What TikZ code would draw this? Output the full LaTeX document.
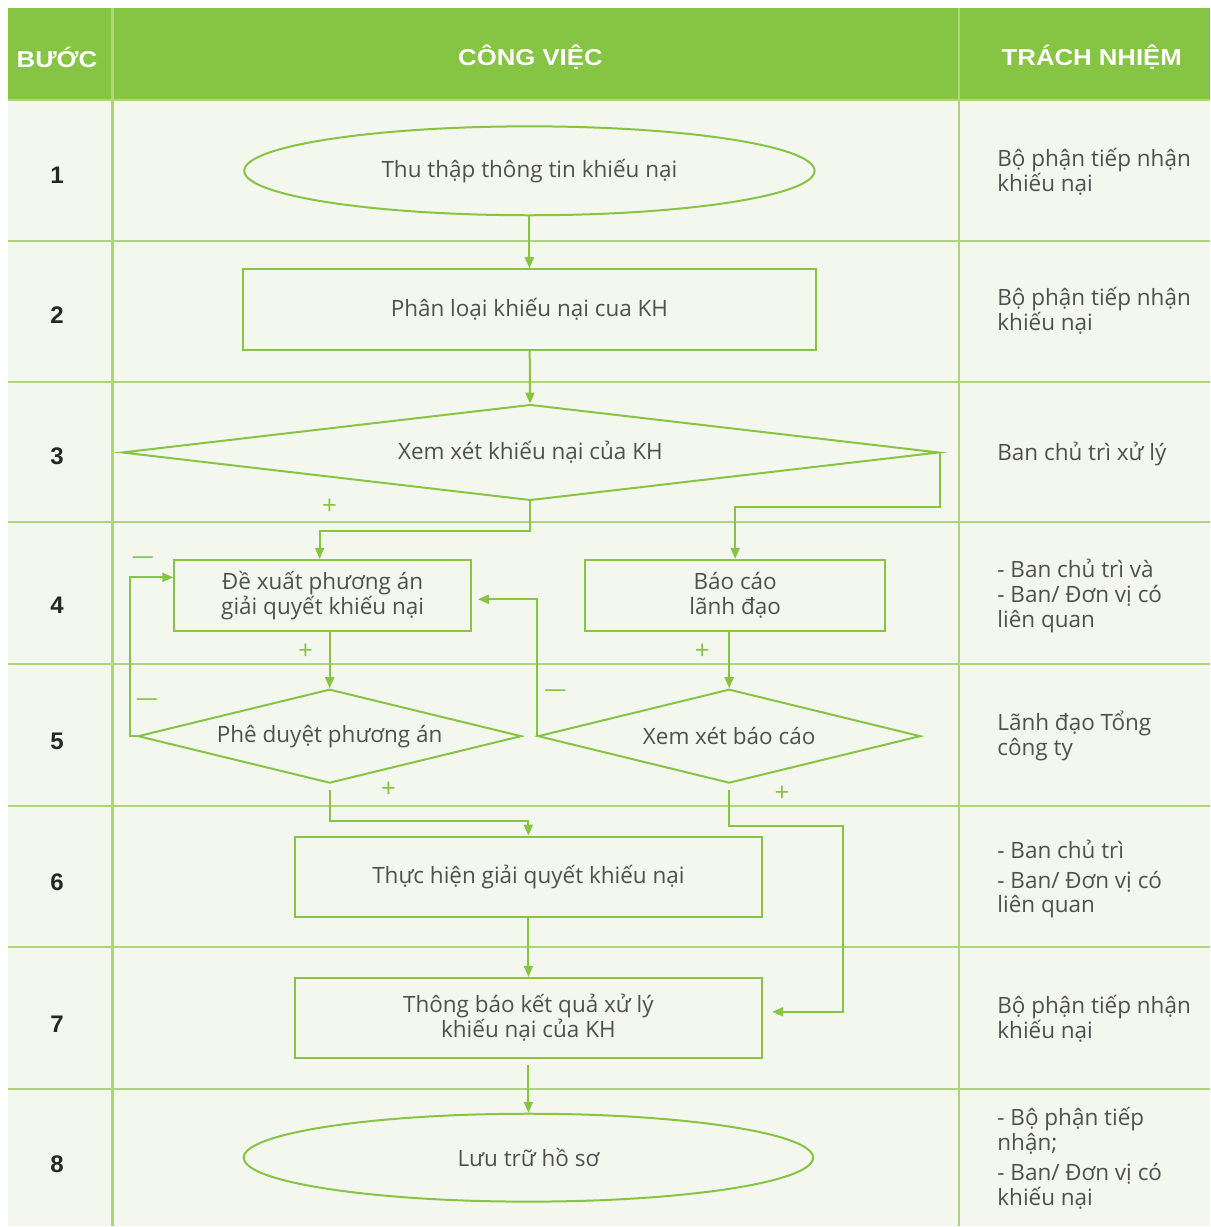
\documentclass[tikz,border=0pt]{standalone}
\usepackage{fontspec}
\setmainfont{Open Sans}
\newfontfamily\headfont[FakeStretch=1.12]{Liberation Sans}
\newfontfamily\numfont{Liberation Sans}
\usetikzlibrary{shapes.geometric,arrows.meta}
\definecolor{leaf}{HTML}{86C443}
\definecolor{rulegreen}{HTML}{ADD67A}
\definecolor{paper}{HTML}{F4F7EE}
\definecolor{ink}{HTML}{505050}
\newcommand{\txtsize}{\fontsize{22.5}{25}\selectfont}

\begin{document}
\begin{tikzpicture}[x=1pt,y=-1pt,
  term/.style={ellipse,draw=leaf,line width=2pt,minimum width=571pt,minimum height=89pt,inner sep=0pt,text=ink,font=\txtsize,align=center},
  task/.style={rectangle,draw=leaf,line width=2pt,inner sep=0pt,text=ink,font=\txtsize,align=center},
  check/.style={diamond,draw=leaf,line width=2pt,inner sep=0pt,text=ink,font=\txtsize,align=center},
  flow/.style={draw=leaf,line width=2pt,-{Triangle[length=11pt,width=9pt]}},
  sign/.style={text=leaf,font=\fontsize{26}{26}\selectfont},
  resp/.style={anchor=west,align=left,text=ink,font=\txtsize},
  head/.style={text=white,font=\headfont\bfseries\fontsize{23}{26}\selectfont},
  stepno/.style={text=black!85,font=\numfont\bfseries\fontsize{24}{26}\selectfont}]

\fill[white] (0,0) rectangle (1211,1227);
\fill[paper] (8,100) rectangle (1211,1227);
\fill[leaf] (8,8) rectangle (1211,100);
\foreach \y in {100,241,382,523,665,807,948,1090}
  \draw[rulegreen,line width=2pt] (8,\y) -- (1211,\y);
\draw[rulegreen,line width=2.8pt] (113,8) -- (113,1227);
\draw[rulegreen,line width=2.8pt] (960,8) -- (960,1227);

\node[head] (h1) at (57,57) {BƯỚC};
\node[head] (h2) at (531,57) {CÔNG VIỆC};
\node[head] (h3) at (1093,57) {TRÁCH NHIỆM};
\foreach \n/\y in {1/175,2/315,3/457,4/606,5/742,6/883,7/1025,8/1166}
  \node[stepno] (n\n) at (57,\y) {\n};

\node[term] (s1) at (530,171) {Thu thập thông tin khiếu nại};
\node[task,minimum width=573pt,minimum height=81pt] (s2) at (530,310) {Phân loại khiếu nại cua KH};
\node[check,aspect=8.5,minimum width=818pt,minimum height=96pt] (s3) at (531,453) {Xem xét khiếu nại của KH};
\node[task,minimum width=297pt,minimum height=71pt] (s4a) at (323,596) {Đề xuất phương án\\giải quyết khiếu nại};
\node[task,minimum width=300pt,minimum height=71pt] (s4b) at (736,596) {Báo cáo\\lãnh đạo};
\node[check,aspect=4,minimum width=384pt,minimum height=94pt] (s5a) at (330,737) {Phê duyệt phương án};
\node[check,aspect=4,minimum width=383pt,minimum height=94pt] (s5b) at (730,737) {Xem xét báo cáo};
\node[task,minimum width=468pt,minimum height=81pt] (s6) at (529,878) {Thực hiện giải quyết khiếu nại};
\node[task,minimum width=468pt,minimum height=80pt] (s7) at (529,1019) {Thông báo kết quả xử lý\\khiếu nại của KH};
\node[term,minimum width=570pt,minimum height=88pt] (s8) at (529,1159) {Lưu trữ hồ sơ};

\draw[flow] (s1) -- (s2);
\draw[flow] (s2) -- (s3);
\draw[flow] (s3.south) -- ++(0,30) -| ([xshift=-3]s4a.north);
\draw[flow] (s3.east) -- ++(0,55) -| (s4b.north);
\draw[flow] (s5a.north |- s4a.south) -- (s5a.north);
\draw[flow] (s5b.north |- s4b.south) -- (s5b.north);
\draw[flow] (s5a.west) -- ++(-7,0) |- ([yshift=18]s4a.west);
\draw[flow,shorten >=6pt] (s5b.west) |- ([yshift=-4]s4a.east);
\draw[flow,shorten <=6pt] (s5a.south) -- ++(0,37) -| (s6.north);
\draw[flow,shorten <=6pt,shorten >=9pt] (s5b.south) -- ++(0,42) -| ([xshift=80,yshift=6]s7.east) -- ([yshift=6]s7.east);
\draw[flow] (s6) -- (s7);
\draw[flow,shorten <=6pt] (s7) -- (s8);

\node[sign] (p1) at (330,507) {+};
\node[sign] (p2) at (306,653) {+};
\node[sign] (p3) at (703,653) {+};
\node[sign] (p4) at (389,791) {+};
\node[sign] (p5) at (783,795) {+};
\node[sign,font=\fontsize{22}{22}\selectfont] (m1) at (143,561) {---};
\node[sign,font=\fontsize{22}{22}\selectfont] (m2) at (147,703) {---};
\node[sign,font=\fontsize{22}{22}\selectfont] (m3) at (556,694) {---};

\node[resp] (r1) at (995,172) {Bộ phận tiếp nhận\\khiếu nại};
\node[resp] (r2) at (995,311) {Bộ phận tiếp nhận\\khiếu nại};
\node[resp] (r3) at (995,455) {Ban chủ trì xử lý};
\node[resp] (r4) at (995,597) {- Ban chủ trì và\\- Ban/ Đơn vị có\\liên quan};
\node[resp] (r5) at (995,737) {Lãnh đạo Tổng\\công ty};
\node[resp] (r6) at (995,880) {- Ban chủ trì\\[5pt]- Ban/ Đơn vị có\\liên quan};
\node[resp] (r7) at (995,1020) {Bộ phận tiếp nhận\\khiếu nại};
\node[resp] (r8) at (995,1160) {- Bộ phận tiếp\\nhận;\\[5pt]- Ban/ Đơn vị có\\khiếu nại};
\end{tikzpicture}
\end{document}
